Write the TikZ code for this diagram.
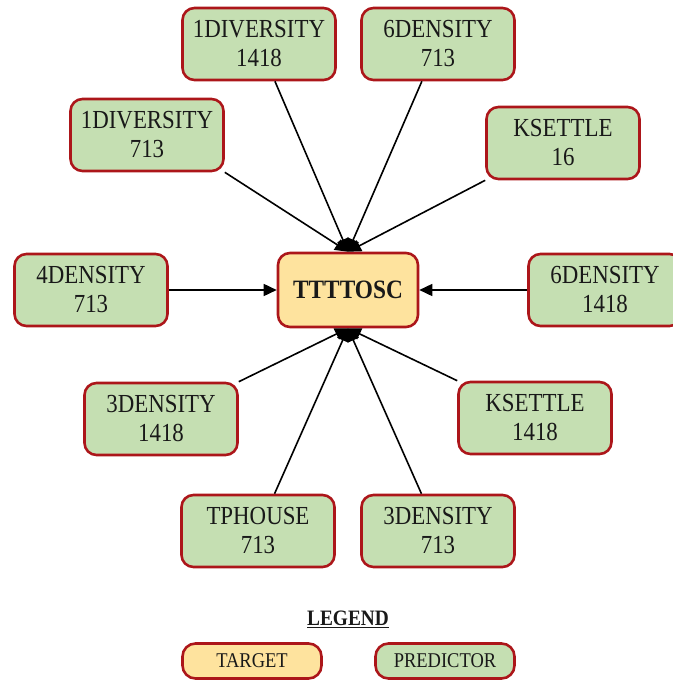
\documentclass[tikz,border=0pt]{standalone}
\usepackage{fontspec}
\setmainfont{Liberation Serif}[FakeStretch=0.88]
\usetikzlibrary{arrows.meta}
\definecolor{predgreen}{RGB}{197,223,178}
\definecolor{targyellow}{RGB}{254,227,158}
\definecolor{bordred}{RGB}{172,22,26}
\tikzset{
  predbox/.style={draw=bordred, line width=2.6pt, fill=predgreen, rounded corners=12pt,
    minimum width=153pt, minimum height=72pt, inner sep=0pt, align=center,
    font=\fontsize{26}{29}\selectfont, text=black!90},
  targbox/.style={predbox, fill=targyellow, minimum width=140pt, minimum height=74pt,
    font=\fontsize{26.5}{29}\selectfont\bfseries},
  legbox/.style={draw=bordred, line width=2.6pt, rounded corners=13pt,
    minimum width=139pt, minimum height=35pt, inner sep=0pt,
    font=\fontsize{21}{24}\selectfont, text=black!90},
  link/.style={draw=black, line width=1.6pt, -{Triangle[length=13pt,width=12pt]}}
}
\begin{document}
\begin{tikzpicture}[x=1pt,y=-1pt]
\useasboundingbox (0,0) rectangle (672,680);
\node[targbox] (T) at (348,290) {TTTTOSC};
\node[predbox] (A) at (259,44) {1DIVERSITY\\1418};
\node[predbox] (B) at (438,44) {6DENSITY\\713};
\node[predbox] (C) at (147,135) {1DIVERSITY\\713};
\node[predbox] (D) at (563,143) {KSETTLE\\16};
\node[predbox] (E) at (91,290) {4DENSITY\\713};
\node[predbox] (F) at (605,290) {6DENSITY\\1418};
\node[predbox] (G) at (161,419) {3DENSITY\\1418};
\node[predbox] (H) at (535,418) {KSETTLE\\1418};
\node[predbox] (I) at (258,531) {TPHOUSE\\713};
\node[predbox] (J) at (438,531) {3DENSITY\\713};
\path[link] (A) -- (T.north);
\path[link] (B) -- (T.north);
\path[link] (C.south east) -- (T.north);
\path[link] (D.south west) -- (T.north);
\path[link] (E) -- (T);
\path[link] (F) -- (T);
\path[link] (G.north east) -- (T.south);
\path[link] (H.north west) -- (T.south);
\path[link] (I) -- (T.south);
\path[link] (J) -- (T.south);
\node[font=\fontsize{22}{24}\selectfont\bfseries, text=black!90] (L) at (348,619) {\underline{LEGEND}};
\node[legbox, fill=targyellow] (LT) at (252,661) {TARGET};
\node[legbox, fill=predgreen] (LP) at (445,661) {PREDICTOR};
\end{tikzpicture}
\end{document}
